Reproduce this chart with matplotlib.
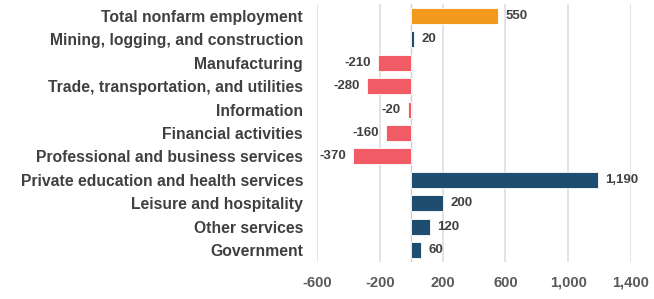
import matplotlib
matplotlib.use("Agg")
import matplotlib.pyplot as plt
from matplotlib.ticker import FuncFormatter

categories = [
    "Total nonfarm employment",
    "Mining, logging, and construction",
    "Manufacturing",
    "Trade, transportation, and utilities",
    "Information",
    "Financial activities",
    "Professional and business services",
    "Private education and health services",
    "Leisure and hospitality",
    "Other services",
    "Government",
]
values = [550, 20, -210, -280, -20, -160, -370, 1190, 200, 120, 60]
x_ticks = [-600, -200, 200, 600, 1000, 1400]

ORANGE = "#F39A1E"
RED = "#F05B66"
NAVY = "#1F4D6F"

plt.rcParams['font.family'] = ['Liberation Sans', 'DejaVu Sans']

fig = plt.figure(figsize=(6.54, 2.99), dpi=100)
ax = fig.add_axes([317/654, 1-262/299, (631-317)/654, (262-4)/299])

colors = []
for i, v in enumerate(values):
    if i == 0:
        colors.append(ORANGE)
    elif v < 0:
        colors.append(RED)
    else:
        colors.append(NAVY)

y = list(range(len(categories)))
ax.barh(y, values, height=0.68, color=colors, edgecolor="white", linewidth=0.6, zorder=3)

for yi, v in zip(y, values):
    txt = f"{v:,}"
    if v >= 0:
        ax.text(v + 48, yi, txt, va="center", ha="left", fontsize=9.5,
                fontweight="bold", color="#404040", zorder=4)
    else:
        ax.text(v - 45, yi, txt, va="center", ha="right", fontsize=9.5,
                fontweight="bold", color="#404040", zorder=4)

ax.set_xlim(-600, 1400)
ax.set_ylim(len(categories) - 0.5, -0.5)
ax.set_xticks(x_ticks)
ax.xaxis.set_major_formatter(FuncFormatter(lambda v, p: f"{int(v):,}"))
ax.set_yticks(y)
ax.set_yticklabels(categories)
for lbl in ax.get_yticklabels():
    lbl.set_fontweight("bold")
    lbl.set_fontsize(11.3)
    lbl.set_color("#404040")
for lbl in ax.get_xticklabels():
    lbl.set_fontweight("bold")
    lbl.set_fontsize(10.5)
    lbl.set_color("#595959")

ax.tick_params(axis="both", length=0)
ax.tick_params(axis="y", pad=10)
ax.tick_params(axis="x", pad=10)
ax.grid(axis="x", color="#E0E0E0", linewidth=1.3, zorder=0)
ax.axvline(0, color="#D0D0D0", linewidth=1.0, zorder=2)
for s in ax.spines.values():
    s.set_visible(False)

fig.savefig("out.png", dpi=100)
